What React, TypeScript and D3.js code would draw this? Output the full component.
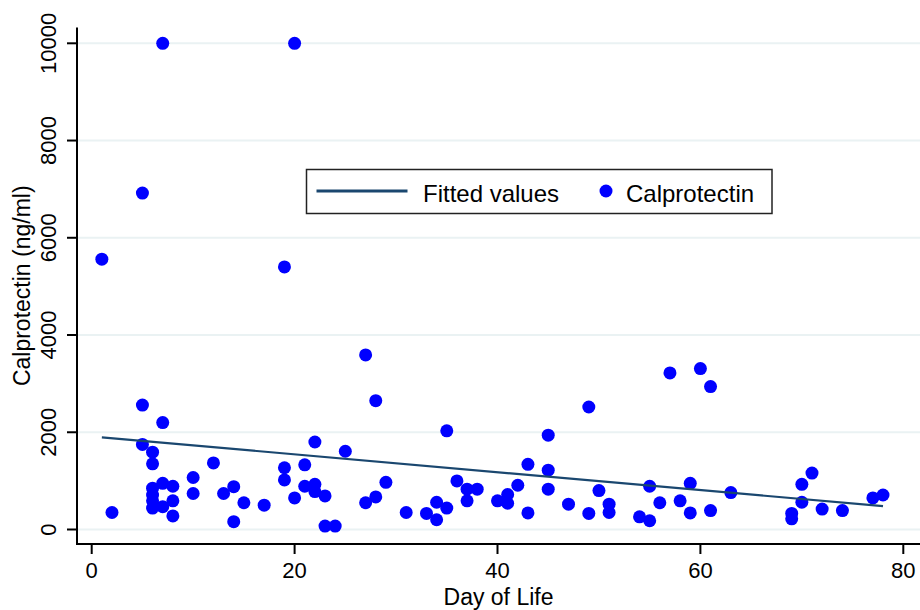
import React, { useEffect, useRef } from 'react'
import * as d3 from 'd3'

// values
const dayOfLife = [
  1, 5, 7, 20, 19, 27,
  5, 7, 28, 5, 6, 6, 12, 22, 25, 19, 21, 10, 19, 7, 6, 8, 6, 6, 6, 7, 8, 8, 10, 2,
  13, 14, 14, 15, 17, 21, 22, 22, 20, 23, 23, 24, 27, 28,
  49, 35, 45, 43, 45, 29, 36, 37, 38, 42, 45, 50, 55, 37, 40, 41, 41, 31, 33, 34,
  35, 34, 43, 47, 49, 51, 51, 54, 55, 56,
  57, 60, 61, 59, 63, 58, 59, 61, 71, 70, 70, 69, 69, 72, 74, 77, 78
]
const calprotectin = [
  5560, 6920, 10000, 10000, 5400, 3590,
  2560, 2200, 2650, 1750, 1590, 1350, 1370, 1800, 1610, 1270, 1330, 1070, 1020, 950, 850, 890, 710, 590, 440, 470, 590, 280, 740, 350,
  740, 880, 160, 550, 500, 890, 930, 780, 650, 690, 70, 70, 550, 670,
  2520, 2030, 1940, 1340, 1220, 970, 1000, 830, 830, 910, 830, 800, 890, 590, 590, 720, 540, 350, 330, 560,
  440, 200, 340, 520, 330, 520, 350, 260, 180, 550,
  3220, 3310, 2940, 950, 760, 590, 340, 390, 1160, 930, 560, 330, 220, 420, 390, 650, 710
]
const fittedDays = [1, 78]
const fittedValues = [1895, 480]

const xTicks = [0, 20, 40, 60, 80]
const yTicks = [0, 2000, 4000, 6000, 8000, 10000]
const legendLabels = ['Fitted values', 'Calprotectin']

const FONT = '"Liberation Sans", Arial, Helvetica, sans-serif'
const DOT = '#0000ff'
const FIT = '#1a476f'
const GRID = '#eaf2f3'

const makeLine = (container, x1, x2, y1, y2, color, width) => {
  return container
    .append('line')
    .attr('x1', x1)
    .attr('x2', x2)
    .attr('y1', y1)
    .attr('y2', y2)
    .attr('stroke', color)
    .attr('stroke-width', width)
}

const drawChart = (node) => {
  const svg = d3.select(node)
  svg.selectAll('*').remove()

  const left = 77
  const bottom = 544
  const top = 27.5
  const right = 920

  const x = d3.scaleLinear().domain([0, 80]).range([91.7, 903.3])
  const y = d3.scaleLinear().domain([0, 10000]).range([529.5, 43.3])

  // grid
  const grid = svg.append('g')
  yTicks.forEach((t) => makeLine(grid, left, right, y(t), y(t), GRID, 2))

  // axes
  const axes = svg.append('g')
  makeLine(axes, left, left, top, bottom + 1, '#000', 2)
  makeLine(axes, left - 1, right, bottom, bottom, '#000', 2)

  yTicks.forEach((t) => {
    makeLine(axes, left - 10, left, y(t), y(t), '#000', 2)
    axes
      .append('text')
      .text(t)
      .attr('transform', `translate(56, ${y(t)}) rotate(-90)`)
      .attr('text-anchor', 'middle')
      .attr('font-family', FONT)
      .attr('font-size', 22)
  })

  xTicks.forEach((t) => {
    makeLine(axes, x(t), x(t), bottom, bottom + 10, '#000', 2)
    axes
      .append('text')
      .text(t)
      .attr('x', x(t))
      .attr('y', 578)
      .attr('text-anchor', 'middle')
      .attr('font-family', FONT)
      .attr('font-size', 22)
  })

  axes
    .append('text')
    .text('Day of Life')
    .attr('x', (left + right) / 2)
    .attr('y', 605)
    .attr('text-anchor', 'middle')
    .attr('font-family', FONT)
    .attr('font-size', 23)

  axes
    .append('text')
    .text('Calprotectin (ng/ml)')
    .attr('transform', `translate(30, ${(top + bottom) / 2}) rotate(-90)`)
    .attr('text-anchor', 'middle')
    .attr('font-family', FONT)
    .attr('font-size', 23)

  // points
  svg
    .append('g')
    .selectAll('circle')
    .data(dayOfLife)
    .enter()
    .append('circle')
    .attr('cx', (d) => x(d))
    .attr('cy', (d, i) => y(calprotectin[i]))
    .attr('r', 6.5)
    .attr('fill', DOT)

  // fitted line
  const line = d3
    .line()
    .x((d) => x(d[0]))
    .y((d) => y(d[1]))
  svg
    .append('path')
    .attr('d', line(fittedDays.map((d, i) => [d, fittedValues[i]])))
    .attr('fill', 'none')
    .attr('stroke', FIT)
    .attr('stroke-width', 2.2)

  // legend
  const legend = svg.append('g')
  legend
    .append('rect')
    .attr('x', 306.5)
    .attr('y', 169.5)
    .attr('width', 465.5)
    .attr('height', 44)
    .attr('fill', '#fff')
    .attr('stroke', '#222')
    .attr('stroke-width', 1.5)
  makeLine(legend, 316.5, 407.5, 191, 191, FIT, 3)
  legend
    .append('text')
    .text(legendLabels[0])
    .attr('x', 423)
    .attr('y', 201.5)
    .attr('font-family', FONT)
    .attr('font-size', 24)
  legend
    .append('circle')
    .attr('cx', 606)
    .attr('cy', 191)
    .attr('r', 6.5)
    .attr('fill', DOT)
  legend
    .append('text')
    .text(legendLabels[1])
    .attr('x', 626)
    .attr('y', 201.5)
    .attr('font-family', FONT)
    .attr('font-size', 24)
}

const App = () => {
  const ref = useRef(null)

  useEffect(() => {
    if (ref.current) drawChart(ref.current)
  }, [])

  return (
    <div style={{ position: 'absolute', left: 0, top: 0, background: '#fff' }}>
      <svg ref={ref} width={920} height={610} style={{ display: 'block' }}></svg>
    </div>
  )
}

export default App
